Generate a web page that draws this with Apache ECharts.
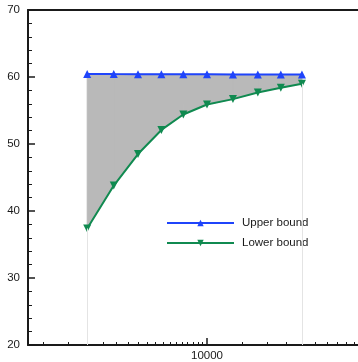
<!DOCTYPE html>
<html>
<head>
<meta charset="utf-8">
<style>
  html, body { margin: 0; padding: 0; background: #fff; }
  #chart { width: 358px; height: 362px; }
</style>
<script src="https://cdn.jsdelivr.net/npm/echarts@6/dist/echarts.min.js"></script>
</head>
<body>
<div id="chart"></div>
<script>
// x positions (log axis) and the two bounds
const xVals  = [2500, 3400, 4500, 5900, 7600, 10000, 13500, 18000, 23500, 30000];
const upper  = [60.45, 60.43, 60.42, 60.41, 60.40, 60.40, 60.39, 60.38, 60.38, 60.37];
const lower  = [37.4, 43.8, 48.5, 52.1, 54.4, 55.9, 56.7, 57.7, 58.4, 59.0];

const xMajorTicks = [10000];
const xMinorTicks = [1500, 2000, 2500, 3000, 3500, 4000, 4500, 5000, 5500, 6000, 6500,
  7000, 7500, 8000, 8500, 9000, 9500, 15000, 20000, 25000, 30000, 35000, 40000,
  45000, 50000, 55000];

const X_MIN = 1260, X_MAX = 57400;
const Y_MIN = 20, Y_MAX = 70;

const FONT = 'Liberation Sans';
const ink = '#1a1a1a';
const blue = '#1f44fb';
const green = '#108a50';
const fill = '#b9b9b9';

const pairs = (ys) => xVals.map((x, i) => [x, ys[i]]);

// one quad per gap between neighbouring x values, filled between the bounds
const bandData = xVals.slice(0, -1).map((x, i) =>
  [x, upper[i], lower[i], xVals[i + 1], upper[i + 1], lower[i + 1]]);

function renderBand(params, api) {
  const p1 = api.coord([api.value(0), api.value(1)]);
  const p2 = api.coord([api.value(3), api.value(4)]);
  const p3 = api.coord([api.value(3), api.value(5)]);
  const p4 = api.coord([api.value(0), api.value(2)]);
  return {
    type: 'polygon',
    shape: { points: [p1, p2, p3, p4] },
    style: { fill: fill, stroke: fill, lineWidth: 1 },
  };
}

const chart = echarts.init(document.getElementById('chart'));

const baseX = {
  type: 'log', min: X_MIN, max: X_MAX, gridIndex: 0,
  splitLine: { show: false }, minorTick: { show: false }, minorSplitLine: { show: false },
};

chart.setOption({
  animation: false,
  backgroundColor: '#fff',
  textStyle: { fontFamily: FONT },
  grid: { left: 28, right: 0, top: 10, bottom: 16, containLabel: false },
  legend: {
    orient: 'vertical', left: 166, top: 216, padding: 0,
    itemWidth: 67, itemHeight: 8, itemGap: 6,
    data: ['Upper bound', 'Lower bound'],
    textStyle: { color: ink, fontSize: 11.5, fontFamily: FONT, padding: [0, 0, 0, 3], lineHeight: 14 },
  },
  xAxis: [
    {
      ...baseX, position: 'bottom',
      axisLine: { show: true, onZero: false, lineStyle: { color: ink, width: 2 } },
      axisTick: { show: true, inside: true, length: 7, customValues: xMajorTicks,
        lineStyle: { color: ink, width: 1.5 } },
      axisLabel: { show: true, customValues: xMajorTicks, margin: 5, color: ink,
        fontSize: 11.5, fontFamily: FONT, formatter: v => String(Math.round(v)) },
    },
    {
      ...baseX, position: 'bottom',
      axisLine: { show: false },
      axisTick: { show: true, inside: true, length: 3, customValues: xMinorTicks,
        lineStyle: { color: ink, width: 1 } },
      axisLabel: { show: false },
    },
    {
      ...baseX, position: 'top',
      axisLine: { show: true, onZero: false, lineStyle: { color: ink, width: 2 } },
      axisTick: { show: false },
      axisLabel: { show: false },
    },
  ],
  yAxis: {
    type: 'value', min: Y_MIN, max: Y_MAX, interval: 10,
    axisLine: { show: true, onZero: false, lineStyle: { color: ink, width: 2 } },
    axisTick: { show: true, inside: true, length: 7, lineStyle: { color: ink, width: 1.5 } },
    minorTick: { show: true, splitNumber: 5, length: 4, lineStyle: { color: ink, width: 1 } },
    axisLabel: { color: ink, fontSize: 11.5, fontFamily: FONT, margin: 8 },
    splitLine: { show: false },
  },
  series: [
    {
      name: 'band', type: 'custom', data: bandData, renderItem: renderBand,
      encode: { x: [0, 3], y: [1, 2, 4, 5] }, silent: true, z: 1,
    },
    {
      name: 'Upper bound', type: 'line', data: pairs(upper),
      symbol: 'triangle', symbolSize: 8, z: 4,
      itemStyle: { color: blue }, lineStyle: { color: blue, width: 2 },
    },
    {
      name: 'Lower bound', type: 'line', data: pairs(lower),
      symbol: 'triangle', symbolRotate: 180, symbolSize: 8, z: 3,
      itemStyle: { color: green }, lineStyle: { color: green, width: 2 },
      markLine: {
        silent: true, symbol: 'none', label: { show: false },
        lineStyle: { color: '#e4e4e4', width: 1, type: 'solid' },
        data: [
          [{ coord: [xVals[0], lower[0]] }, { coord: [xVals[0], Y_MIN] }],
          [{ coord: [xVals[xVals.length - 1], lower[lower.length - 1]] },
           { coord: [xVals[xVals.length - 1], Y_MIN] }],
        ],
      },
    },
  ],
});
</script>
</body>
</html>
